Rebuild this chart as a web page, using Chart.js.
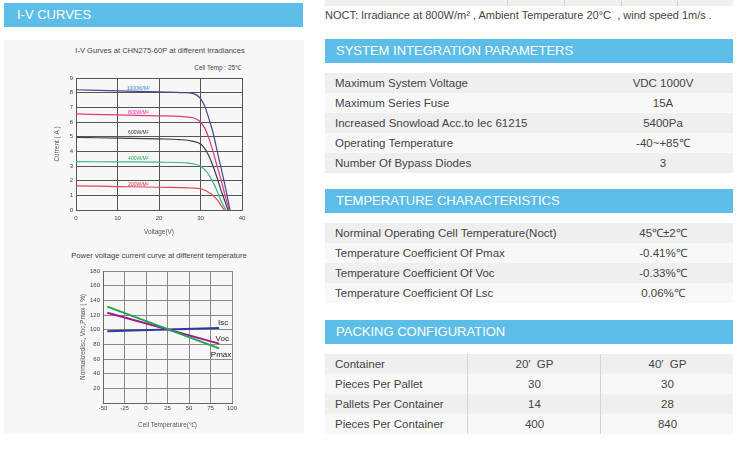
<!DOCTYPE html>
<html>
<head>
<meta charset="utf-8">
<script src="https://cdn.jsdelivr.net/npm/chart.js@4.4.0/dist/chart.umd.min.js"></script>
<style>
    body {
        margin: 0;
        width: 738px;
        height: 450px;
        background: #fff;
        position: relative;
        overflow: hidden;
        font-family: "Liberation Sans", Arial, sans-serif;
        color: #444;
    }
    .bar {
        position: absolute;
        background: #5cbde8;
        color: #fff;
        font-size: 13px;
        line-height: 24px;
        height: 24px;
        box-sizing: border-box;
    }
    .panel {
        position: absolute;
        left: 4px;
        top: 40px;
        width: 300px;
        height: 393px;
        background: #f7f7f7;
    }
    .chart-title {
        position: absolute;
        font-size: 7.6px;
        color: #444;
        white-space: nowrap;
    }
    canvas { position: absolute; }
    .tbl {
        position: absolute;
        left: 325px;
        width: 408px;
        font-size: 11.5px;
        color: #444;
    }
    .row {
        height: 20px;
        line-height: 20px;
        position: relative;
    }
    .row:nth-child(odd) { background: #efefef; }
    .row:nth-child(even) { background: #f8f8f8; }
    .row .k { position: absolute; left: 10px; }
    .row .v { position: absolute; left: 593px; width: 140px; text-align: center; }
    .tbl .v { left: 268px; }
    .pack .c1 { position: absolute; left: 142px; width: 133px; text-align: center; border-left: 1px solid #d4d4d4; height: 20px; }
    .pack .c2 { position: absolute; left: 275px; width: 133px; text-align: center; border-left: 1px solid #d4d4d4; height: 20px; }
</style>
</head>
<body>

<!-- left side -->
<div class="bar" style="left:4px; top:3px; width:299px; padding-left:13px;">I-V CURVES</div>
<div class="panel"></div>
<div class="chart-title" style="left:0; width:320px; text-align:center; top:46px;">I-V Gurves at CHN275-60P at different Irradiances</div>
<div class="chart-title" style="left:180px; width:61px; text-align:right; top:63px; font-size:6.4px;">Cell Temp : 25℃</div>
<canvas id="ivChart" width="216" height="170" style="left:46px; top:70px;"></canvas>
<div class="chart-title" style="left:0; width:318px; text-align:center; top:251px;">Power voltage current curve at different temperature</div>
<canvas id="tempChart" width="186" height="172" style="left:74px; top:262px;"></canvas>

<!-- right side -->
<div style="position:absolute; left:325px; top:-14px; width:408px; height:20px; background:#efefef;"></div>
<div style="position:absolute; left:507px; top:0; width:1px; height:6px; background:#d0d0d0;"></div>
<div style="position:absolute; left:564px; top:0; width:1px; height:6px; background:#d0d0d0;"></div>
<div style="position:absolute; left:621px; top:0; width:1px; height:6px; background:#d0d0d0;"></div>
<div style="position:absolute; left:677px; top:0; width:1px; height:6px; background:#d0d0d0;"></div>
<div style="position:absolute; left:325px; top:9px; font-size:11px; color:#444; white-space:nowrap;">NOCT: Irradiance at 800W/m² , Ambient Temperature 20°C &nbsp;, wind speed 1m/s .</div>

<div class="bar" style="left:325px; top:39px; width:408px; padding-left:11px;">SYSTEM INTEGRATION PARAMETERS</div>
<div class="tbl" style="top:73px;">
    <div class="row"><span class="k">Maximum System Voltage</span><span class="v">VDC 1000V</span></div>
    <div class="row"><span class="k">Maximum Series Fuse</span><span class="v">15A</span></div>
    <div class="row"><span class="k">Increased Snowload Acc.to Iec 61215</span><span class="v">5400Pa</span></div>
    <div class="row"><span class="k">Operating Temperature</span><span class="v">-40~+85℃</span></div>
    <div class="row"><span class="k">Number Of Bypass Diodes</span><span class="v">3</span></div>
</div>

<div class="bar" style="left:325px; top:189px; width:408px; padding-left:11px;">TEMPERATURE CHARACTERISTICS</div>
<div class="tbl" style="top:223px;">
    <div class="row"><span class="k">Norminal Operating Cell Temperature(Noct)</span><span class="v">45℃±2℃</span></div>
    <div class="row"><span class="k">Temperature Coefficient Of Pmax</span><span class="v">-0.41%℃</span></div>
    <div class="row"><span class="k">Temperature Coefficient Of Voc</span><span class="v">-0.33%℃</span></div>
    <div class="row"><span class="k">Temperature Coefficient Of Lsc</span><span class="v">0.06%℃</span></div>
</div>

<div class="bar" style="left:325px; top:320px; width:408px; padding-left:11px;">PACKING CONFIGURATION</div>
<div class="tbl pack" style="top:354px;">
    <div class="row"><span class="k">Container</span><span class="c1">20′&nbsp; GP</span><span class="c2">40′&nbsp; GP</span></div>
    <div class="row"><span class="k">Pieces Per Pallet</span><span class="c1">30</span><span class="c2">30</span></div>
    <div class="row"><span class="k">Pallets Per Container</span><span class="c1">14</span><span class="c2">28</span></div>
    <div class="row"><span class="k">Pieces Per Container</span><span class="c1">400</span><span class="c2">840</span></div>
</div>

<script>
// ================
// I-V curve data
// ================
const irradianceLabels = ['1000W/M²', '800W/M²', '600W/M²', '400W/M²', '200W/M²'];
const curveColors = ['#414b8e', '#e5377f', '#3a3d4a', '#3dbb7e', '#e8435b'];
const labelColors = ['#3b8fd2', '#e0309a', '#333333', '#2aa860', '#e0304a'];

const voltage1000 = [0, 10, 20, 26, 28, 29, 30, 31, 32, 33, 34, 35, 36, 37.1];
const current1000 = [8.2, 8.12, 8.05, 8.0, 7.95, 7.85, 7.6, 7.1, 6.25, 5.3, 4.05, 2.8, 1.55, 0];
const voltage800 = [0, 10, 20, 25, 28, 29, 30, 31, 32, 33, 34, 35, 36, 36.9];
const current800 = [6.55, 6.48, 6.42, 6.38, 6.3, 6.2, 6.0, 5.6, 4.9, 4.0, 3.0, 2.0, 0.9, 0];
const voltage600 = [0, 10, 20, 25, 28, 30, 31, 32, 33, 34, 35, 36, 36.6];
const current600 = [4.95, 4.9, 4.85, 4.8, 4.7, 4.5, 4.2, 3.7, 3.0, 2.2, 1.3, 0.5, 0];
const voltage400 = [0, 10, 20, 27, 29, 30, 31, 32, 33, 34, 35, 36.1];
const current400 = [3.3, 3.28, 3.26, 3.2, 3.1, 3.0, 2.75, 2.4, 1.9, 1.3, 0.6, 0];
const voltage200 = [0, 10, 20, 28, 30, 31, 32, 33, 34, 35, 35.7];
const current200 = [1.65, 1.6, 1.55, 1.5, 1.45, 1.35, 1.2, 1.0, 0.7, 0.3, 0];

const ivLabelVoltage = [15, 15, 15, 15, 15];
const ivLabelCurrent = [8.27, 6.67, 5.25, 3.5, 1.73];

const voltageTicks = [0, 10, 20, 30, 40];
const currentTicks = [0, 1, 2, 3, 4, 5, 6, 7, 8, 9];

// ======================
// Temperature curve data
// ======================
const temperature = [-45, 85];
const iscValues = [97.7, 102.3];
const vocValues = [123, 81];
const pmaxValues = [131.5, 74.5];
const tempSeriesNames = ['Isc', 'Voc', 'Pmax'];
const tempLabelTemp = [89.8, 88.7, 87.3];
const tempLabelValue = [110, 87, 66];
const tempTicks = [-50, -25, 0, 25, 50, 75, 100];
const percentTicks = [0, 20, 40, 60, 80, 100, 120, 140, 160, 180];

const FONT = '"Liberation Sans", Arial, sans-serif';

function toPoints(xs, ys) {
    return xs.map((x, i) => ({ x: x, y: ys[i] }));
}

// draw small text labels at data positions
const textLabels = {
    id: 'textLabels',
    afterDatasetsDraw(chart, args, opts) {
        if (!opts.texts) return;
        const { ctx, scales } = chart;
        ctx.save();
        ctx.font = opts.font;
        ctx.textAlign = 'center';
        ctx.textBaseline = 'middle';
        opts.texts.forEach((t, i) => {
            ctx.fillStyle = opts.colors[i];
            ctx.fillText(t, scales.x.getPixelForValue(opts.xs[i]), scales.y.getPixelForValue(opts.ys[i]));
        });
        ctx.restore();
    }
};

function axis(opts) {
    return {
        type: 'linear',
        min: opts.ticks[0],
        max: opts.ticks[opts.ticks.length - 1],
        afterBuildTicks: s => { s.ticks = opts.ticks.map(v => ({ value: v })); },
        afterFit: s => { if (opts.width) s.width = opts.width; if (opts.height) s.height = opts.height; },
        grid: { color: opts.gridColor, lineWidth: 1, drawTicks: false },
        border: { color: opts.borderColor, width: 1 },
        ticks: {
            padding: opts.pad,
            color: '#444',
            font: { size: 6, family: FONT },
            maxRotation: 0,
            autoSkip: false,
            callback: opts.hideZero ? (v => v === 0 ? '' : v) : (v => v)
        },
        title: {
            display: true,
            text: opts.title,
            color: '#555',
            font: { size: 6.4, family: FONT },
            padding: { top: opts.titlePad, bottom: 0 }
        }
    };
}

// ========
// IV chart
// ========
const ivVoltages = [voltage1000, voltage800, voltage600, voltage400, voltage200];
const ivCurrents = [current1000, current800, current600, current400, current200];

new Chart(document.getElementById('ivChart'), {
    type: 'line',
    data: {
        datasets: irradianceLabels.map((name, i) => ({
            label: name,
            data: toPoints(ivVoltages[i], ivCurrents[i]),
            borderColor: curveColors[i],
            borderWidth: 1.2,
            pointRadius: 0,
            cubicInterpolationMode: 'monotone',
            fill: false
        }))
    },
    options: {
        responsive: false,
        animation: false,
        layout: { padding: { top: 8, bottom: 4, left: 0, right: 20 } },
        plugins: {
            legend: { display: false },
            tooltip: { enabled: false },
            textLabels: {
                texts: irradianceLabels,
                colors: labelColors,
                xs: ivLabelVoltage,
                ys: ivLabelCurrent,
                font: '5px ' + FONT
            }
        },
        scales: {
            x: axis({ ticks: voltageTicks, height: 26, gridColor: '#555', borderColor: '#555', pad: 5, title: 'Voltage(V)', titlePad: 1 }),
            y: axis({ ticks: currentTicks, width: 30, gridColor: '#555', borderColor: '#555', pad: 3, title: 'Current ( A )', titlePad: 7 })
        }
    },
    plugins: [textLabels]
});

// =================
// Temperature chart
// =================
const tempSeries = [iscValues, vocValues, pmaxValues];
const tempColors = ['#2e3a9e', '#9b1b8e', '#22a34a'];

new Chart(document.getElementById('tempChart'), {
    type: 'line',
    data: {
        datasets: tempSeriesNames.map((name, i) => ({
            label: name,
            data: toPoints(temperature, tempSeries[i]),
            borderColor: tempColors[i],
            borderWidth: 2,
            pointRadius: 0,
            fill: false
        })).reverse()
    },
    options: {
        responsive: false,
        animation: false,
        layout: { padding: { top: 9, bottom: 5, left: 0, right: 28 } },
        plugins: {
            legend: { display: false },
            tooltip: { enabled: false },
            textLabels: {
                texts: tempSeriesNames,
                colors: ['#222', '#222', '#222'],
                xs: tempLabelTemp,
                ys: tempLabelValue,
                font: '8px ' + FONT
            }
        },
        scales: {
            x: axis({ ticks: tempTicks, height: 26, gridColor: '#8a8a8a', borderColor: '#666', pad: 2, title: 'Cell Temperature(℃)', titlePad: 3 }),
            y: axis({ ticks: percentTicks, width: 29, gridColor: '#8a8a8a', borderColor: '#666', pad: 3, title: 'Normalizedlsc, Voc,Pmax ( %)', titlePad: 5, hideZero: true })
        }
    },
    plugins: [textLabels]
});
</script>
</body>
</html>
